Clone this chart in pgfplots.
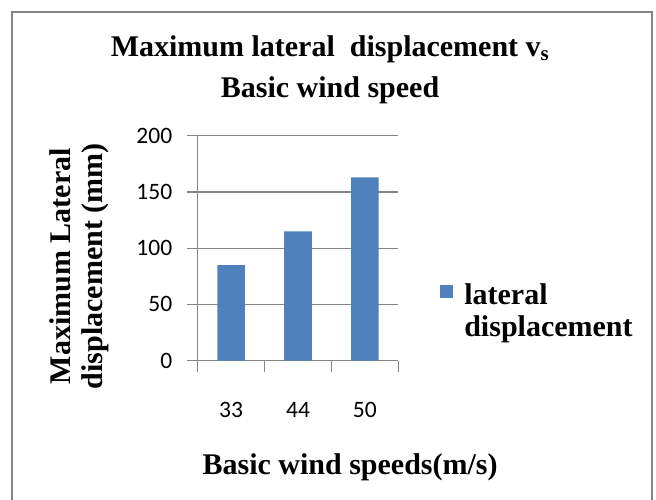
\documentclass[border=0pt]{standalone}
\usepackage{fontspec}
\setmainfont{Liberation Serif}
\newfontfamily\carlito{Carlito}
\usepackage{pgfplots}
\pgfplotsset{compat=1.18}
\definecolor{barblue}{HTML}{4F81BD}
\definecolor{axgray}{HTML}{868686}

\begin{document}
\begin{tikzpicture}[x=1pt,y=1pt]
\useasboundingbox (0,0) rectangle (656,499);
% chart frame (bottom edge runs off the page)
\draw[axgray, line width=2pt] (12,-4) -- (12,487) -- (652,487) -- (652,-4);
\begin{axis}[
    at={(197.7pt,138.3pt)}, anchor=south west,
    scale only axis, width=200.6pt, height=225pt,
    axis on top=false,
    ybar, bar width=27.7pt,
    xmin=-0.5, xmax=2.5, ymin=0, ymax=200,
    ytick={0,50,100,150,200},
    xtick={-0.5,0.5,1.5,2.5}, xticklabels={},
    extra x ticks={0,1,2}, extra x tick labels={33,44,50},
    extra x tick style={tick style={draw=none}, grid=none},
    axis lines*=left,
    axis line style={axgray, line width=1.3pt},
    tick style={axgray, line width=1.3pt},
    tick align=outside, major tick length=11pt,
    ymajorgrids, grid style={axgray, line width=1.3pt},
    /pgf/number format/assume math mode=true,
    tick label style={font=\carlito\fontsize{23.5}{28}\selectfont},
    yticklabel style={xshift=-11pt},
    xticklabel style={yshift=-27pt},
    title={Maximum lateral \ displacement v\textsubscript{s}\\Basic wind speed},
    title style={font=\bfseries\fontsize{30}{41}\selectfont, at={(axis description cs:0.66,1.265)}, anchor=center, align=center},
    xlabel={Basic wind speeds(m/s)},
    xlabel style={font=\bfseries\fontsize{30}{32}\selectfont, at={(axis description cs:0.76,-0.475)}, anchor=center},
    ylabel={Maximum Lateral\\displacement (mm)},
    ylabel style={font=\bfseries\fontsize{30}{32}\selectfont, at={(axis description cs:-0.592,0.42)}, anchor=center, align=center},
    legend style={draw=none, fill=none, at={(axis description cs:1.19,0.367)}, anchor=north west,
        font=\bfseries\fontsize{30}{32}\selectfont,
        /tikz/every odd column/.append style={column sep=9pt}},
    legend image code/.code={\fill[barblue] (0pt,-4pt) rectangle (13.7pt,9.7pt);},
]
\addplot[fill=barblue, draw=none] coordinates {(0,85) (1,115) (2,163)};
\legend{{\begin{tabular}[t]{@{}l@{}}lateral\\displacement\end{tabular}}}
\end{axis}
\end{tikzpicture}
\end{document}
